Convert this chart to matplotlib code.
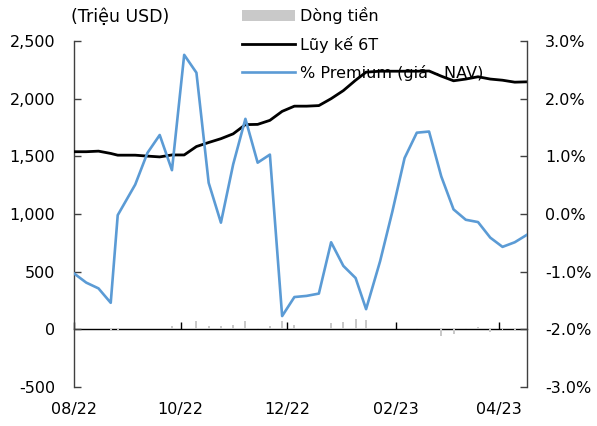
import matplotlib
matplotlib.use("Agg")
import matplotlib.pyplot as plt
import matplotlib.dates as mdates
import matplotlib.ticker as mticker
from matplotlib.patches import Patch
from matplotlib.lines import Line2D
import pandas as pd

plt.rcParams['font.family'] = ['DejaVu Sans']

dates = pd.to_datetime([
    "2022-08-01", "2022-08-08", "2022-08-15", "2022-08-22", "2022-08-26",
    "2022-09-05", "2022-09-12", "2022-09-19", "2022-09-26", "2022-10-03",
    "2022-10-10", "2022-10-17", "2022-10-24", "2022-10-31", "2022-11-07",
    "2022-11-14", "2022-11-21", "2022-11-28", "2022-12-05", "2022-12-12",
    "2022-12-19", "2022-12-26", "2023-01-02", "2023-01-09", "2023-01-15",
    "2023-01-23", "2023-01-30", "2023-02-06", "2023-02-13", "2023-02-20",
    "2023-02-27", "2023-03-06", "2023-03-13", "2023-03-20", "2023-03-27",
    "2023-04-03", "2023-04-10", "2023-04-17",
])

# Dòng tiền (weekly flows, million USD)
flows = [0, 0, 3, -3, -3, 0, 0, 0, 26, 0,
         75, 26, 26, 40, 75, 10, 29, 75, 40, 0,
         3, 55, 63, 92, 78, 0, 0, 0, 11, 0,
         -55, -38, 11, 20, -20, -11, -17, 0]

# Lũy kế 6T (6-month cumulative, million USD)
cumulative = [1540, 1540, 1545, 1525, 1510, 1510, 1502, 1495, 1512, 1512,
              1585, 1620, 1653, 1695, 1775, 1777, 1812, 1890, 1935, 1935,
              1940, 2000, 2070, 2160, 2230, 2238, 2238, 2238, 2238, 2240,
              2195, 2155, 2170, 2190, 2170, 2160, 2143, 2146]

# % Premium (giá - NAV)
premium = [-1.03, -1.19, -1.29, -1.54, -0.02, 0.51, 1.06, 1.37, 0.76, 2.76,
           2.45, 0.54, -0.15, 0.86, 1.65, 0.89, 1.03, -1.77, -1.44, -1.42,
           -1.38, -0.49, -0.90, -1.11, -1.65, -0.82, 0.04, 0.97, 1.41, 1.43,
           0.65, 0.08, -0.10, -0.14, -0.41, -0.57, -0.49, -0.36]

left_ticks = [-500, 0, 500, 1000, 1500, 2000, 2500]
right_ticks = [-3, -2, -1, 0, 1, 2, 3]

FS = 11.5
BAR_C = '#C9C9C9'
BLUE = '#5B9BD5'
SPINE_C = '#404040'

W, H = 597, 426
fig = plt.figure(figsize=(W / 100, H / 100), dpi=100)
ax = fig.add_axes([74 / W, 1 - 387 / H, (527 - 74) / W, (387 - 41) / H])
ax.patch.set_alpha(0)

ax.bar(dates, flows, width=1.1, color=BAR_C, zorder=2)
ax.plot(dates, cumulative, color='black', lw=2.0, zorder=3)

ax.set_ylim(-500, 2500)
ax.set_yticks(left_ticks)
ax.yaxis.set_major_formatter(mticker.FuncFormatter(lambda v, p: f"{int(v):,}"))
ax.set_xlim(pd.Timestamp("2022-08-01"), pd.Timestamp("2023-04-17"))

for s in ['top', 'bottom', 'right']:
    ax.spines[s].set_visible(False)
ax.spines['left'].set_color(SPINE_C)
ax.spines['left'].set_linewidth(1)

ax.tick_params(axis='y', direction='in', length=5, width=1, color=SPINE_C,
               pad=13.5, labelsize=FS)
locator = mdates.MonthLocator(bymonth=[2, 4, 6, 8, 10, 12])
ax.xaxis.set_major_locator(locator)
ax.xaxis.set_major_formatter(mdates.DateFormatter('%m/%y'))
ax.tick_params(axis='x', length=0, pad=11, labelsize=FS)

# horizontal category axis at zero with inward ticks
sec = ax.secondary_xaxis(0, transform=ax.transData)
sec.xaxis.set_major_locator(mdates.MonthLocator(bymonth=[2, 4, 6, 8, 10, 12]))
sec.tick_params(axis='x', direction='in', length=5, width=1, color='black',
                labelbottom=False, labeltop=False)
for s in sec.spines.values():
    s.set_color('black')
    s.set_linewidth(1)

ax2 = ax.twinx()
ax2.patch.set_alpha(0)
ax2.plot(dates, premium, color=BLUE, lw=1.9, zorder=3)
ax2.set_ylim(-3, 3)
ax2.set_yticks(right_ticks)
ax2.yaxis.set_major_formatter(mticker.FuncFormatter(lambda v, p: f"{v:.1f}%"))
for s in ['top', 'bottom', 'left']:
    ax2.spines[s].set_visible(False)
ax2.spines['right'].set_color(SPINE_C)
ax2.spines['right'].set_linewidth(1)
ax2.tick_params(axis='y', direction='in', length=5, width=1, color=SPINE_C,
                pad=13, labelsize=FS)

fig.text(120 / W, 1 - 17 / H, "(Triệu USD)", ha='center', va='center', fontsize=12.5)

handles = [Patch(facecolor=BAR_C, edgecolor='none'),
           Line2D([], [], color='black', lw=2.0),
           Line2D([], [], color=BLUE, lw=1.9)]
labels = ["Dòng tiền", "Lũy kế 6T", "% Premium (giá - NAV)"]
leg = fig.legend(handles, labels, loc='upper left',
                 bbox_to_anchor=(242 / W, 1 - 7 / H), frameon=False,
                 fontsize=FS, handlelength=3.3, handletextpad=0.3,
                 labelspacing=0.74, borderpad=0, borderaxespad=0)
leg.set_zorder(-1)

fig.savefig("out.png", dpi=100)
